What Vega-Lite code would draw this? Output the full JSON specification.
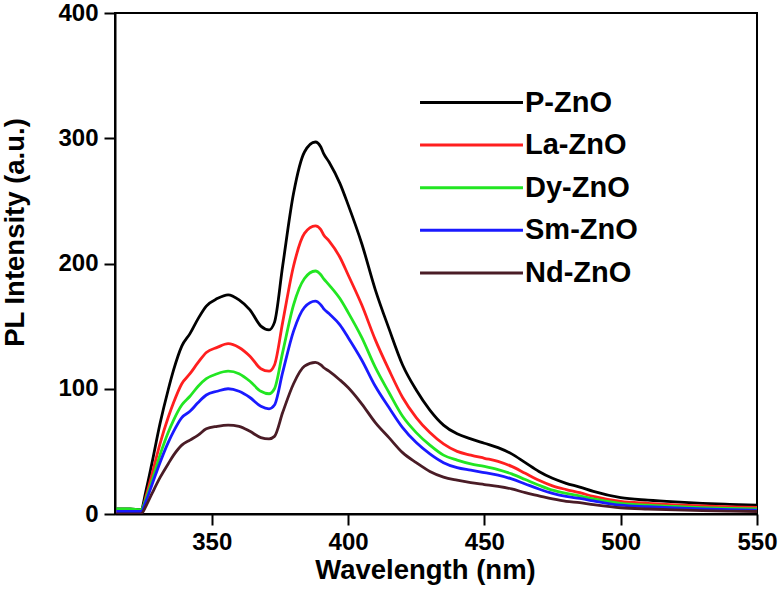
{
  "$schema": "https://vega.github.io/schema/vega-lite/v6.json",
  "width": 642,
  "height": 501,
  "autosize": "none",
  "padding": {"left": 115, "top": 13, "right": 25, "bottom": 75},
  "config": {
    "view": {"stroke": "black", "strokeWidth": 2},
    "font": "Liberation Sans",
    "axis": {
      "grid": false,
      "domainColor": "black",
      "domainWidth": 2,
      "tickColor": "black",
      "tickWidth": 2,
      "tickSize": 11,
      "labelFont": "Liberation Sans",
      "labelFontWeight": "bold",
      "labelFontSize": 24,
      "labelColor": "black",
      "titleFont": "Liberation Sans",
      "titleFontWeight": "bold",
      "titleFontSize": 27.5,
      "titleColor": "black"
    }
  },
  "data": {
    "values": [
      {"wl":315,"P":4,"La":1.5,"Dy":4,"Sm":2,"Nd":0},
      {"wl":320,"P":4,"La":1.5,"Dy":4,"Sm":2,"Nd":0},
      {"wl":324,"P":3.5,"La":1.5,"Dy":3.5,"Sm":2,"Nd":0},
      {"wl":326,"P":20,"La":15,"Dy":13,"Sm":11,"Nd":7},
      {"wl":328,"P":40,"La":31,"Dy":26,"Sm":23,"Nd":16},
      {"wl":331,"P":72,"La":56,"Dy":47,"Sm":41,"Nd":29},
      {"wl":334,"P":99,"La":77,"Dy":65,"Sm":57,"Nd":40},
      {"wl":336,"P":115,"La":89,"Dy":75,"Sm":66,"Nd":47},
      {"wl":339,"P":134,"La":104,"Dy":87,"Sm":77,"Nd":55},
      {"wl":342,"P":144,"La":112,"Dy":94,"Sm":82,"Nd":59},
      {"wl":345,"P":156,"La":121,"Dy":102,"Sm":89,"Nd":63},
      {"wl":348,"P":166,"La":129,"Dy":108,"Sm":95,"Nd":68},
      {"wl":352,"P":172,"La":133,"Dy":112,"Sm":98,"Nd":70},
      {"wl":356,"P":175,"La":136,"Dy":114,"Sm":100,"Nd":71},
      {"wl":360,"P":171,"La":133,"Dy":112,"Sm":98,"Nd":70},
      {"wl":364,"P":163,"La":126,"Dy":106,"Sm":93,"Nd":66},
      {"wl":368,"P":150,"La":116,"Dy":98,"Sm":86,"Nd":61},
      {"wl":371,"P":147,"La":114,"Dy":96,"Sm":84,"Nd":60},
      {"wl":373,"P":153,"La":119,"Dy":100,"Sm":87,"Nd":62},
      {"wl":376,"P":198,"La":153,"Dy":129,"Sm":113,"Nd":81},
      {"wl":380,"P":256,"La":198,"Dy":167,"Sm":146,"Nd":104},
      {"wl":384,"P":289,"La":224,"Dy":188,"Sm":165,"Nd":118},
      {"wl":388,"P":297,"La":230,"Dy":194,"Sm":170,"Nd":121},
      {"wl":390,"P":293,"La":227,"Dy":191,"Sm":167,"Nd":119},
      {"wl":391,"P":288,"La":223,"Dy":188,"Sm":164,"Nd":117},
      {"wl":393,"P":281,"La":218,"Dy":183,"Sm":160,"Nd":114},
      {"wl":397,"P":264,"La":205,"Dy":172,"Sm":151,"Nd":107},
      {"wl":400,"P":247,"La":191,"Dy":161,"Sm":141,"Nd":101},
      {"wl":405,"P":216,"La":167,"Dy":141,"Sm":123,"Nd":88},
      {"wl":410,"P":179,"La":139,"Dy":117,"Sm":102,"Nd":73},
      {"wl":415,"P":148,"La":115,"Dy":97,"Sm":85,"Nd":61},
      {"wl":420,"P":119,"La":93,"Dy":78,"Sm":69,"Nd":49},
      {"wl":425,"P":99,"La":77,"Dy":65,"Sm":57,"Nd":41},
      {"wl":430,"P":83,"La":65,"Dy":55,"Sm":48,"Nd":34},
      {"wl":435,"P":71,"La":56,"Dy":47,"Sm":41,"Nd":29.5},
      {"wl":440,"P":64,"La":50,"Dy":43,"Sm":37,"Nd":27},
      {"wl":445,"P":60,"La":47,"Dy":40,"Sm":35,"Nd":25},
      {"wl":450,"P":56.5,"La":44.5,"Dy":38,"Sm":33,"Nd":23.5},
      {"wl":455,"P":53,"La":42,"Dy":35.5,"Sm":31,"Nd":22},
      {"wl":460,"P":48,"La":38,"Dy":32,"Sm":28,"Nd":20},
      {"wl":465,"P":41,"La":32.5,"Dy":27.5,"Sm":24,"Nd":17},
      {"wl":470,"P":34,"La":27,"Dy":23,"Sm":20,"Nd":14.5},
      {"wl":475,"P":28.5,"La":22.5,"Dy":19,"Sm":16.5,"Nd":12},
      {"wl":480,"P":24.5,"La":19.5,"Dy":16.5,"Sm":14,"Nd":10},
      {"wl":485,"P":21.5,"La":17,"Dy":14.5,"Sm":12.5,"Nd":9},
      {"wl":490,"P":18,"La":14,"Dy":12,"Sm":10.5,"Nd":7.5},
      {"wl":500,"P":13,"La":10,"Dy":8.5,"Sm":7,"Nd":5},
      {"wl":510,"P":11,"La":8.5,"Dy":7,"Sm":5.8,"Nd":4},
      {"wl":520,"P":9.6,"La":7.3,"Dy":6,"Sm":4.8,"Nd":3.3},
      {"wl":530,"P":8.5,"La":6.4,"Dy":5,"Sm":4,"Nd":2.7},
      {"wl":540,"P":7.7,"La":5.7,"Dy":4.4,"Sm":3.4,"Nd":2.3},
      {"wl":550,"P":7,"La":5.2,"Dy":4,"Sm":3,"Nd":2}
    ]
  },
  "transform": [
    {"fold": ["P", "La", "Dy", "Sm", "Nd"], "as": ["key", "value"]},
    {"lookup": "key", "from": {"data": {"values": [
      {"key": "P", "series": "P-ZnO", "ord": 5},
      {"key": "La", "series": "La-ZnO", "ord": 4},
      {"key": "Dy", "series": "Dy-ZnO", "ord": 3},
      {"key": "Sm", "series": "Sm-ZnO", "ord": 2},
      {"key": "Nd", "series": "Nd-ZnO", "ord": 1}
    ]}, "key": "key", "fields": ["series", "ord"]}}
  ],
  "mark": {"type": "line", "strokeWidth": 2.8, "interpolate": "monotone", "clip": true},
  "encoding": {
    "x": {
      "field": "wl", "type": "quantitative",
      "scale": {"domain": [314.5, 550], "nice": false, "zero": false},
      "axis": {"values": [350, 400, 450, 500, 550], "title": "Wavelength (nm)", "labelPadding": 5, "titleX": 310, "titleY": 64, "titleBaseline": "alphabetic", "labelFlush": false}
    },
    "y": {
      "field": "value", "type": "quantitative",
      "scale": {"domain": [0, 400], "nice": false},
      "axis": {"values": [0, 100, 200, 300, 400], "title": "PL Intensity (a.u.)", "labelPadding": 6, "titleX": -86, "titleY": 219, "labelFlush": false}
    },
    "order": {"field": "ord"},
    "color": {
      "field": "series", "type": "nominal",
      "sort": ["P-ZnO", "La-ZnO", "Dy-ZnO", "Sm-ZnO", "Nd-ZnO"],
      "scale": {"domain": ["P-ZnO", "La-ZnO", "Dy-ZnO", "Sm-ZnO", "Nd-ZnO"], "range": ["#000000", "#ff1f1f", "#22e622", "#1a1aff", "#4a1c26"]},
      "legend": {
        "title": null,
        "orient": "none",
        "legendX": 342,
        "legendY": 75,
        "symbolType": "M-5,0H5",
        "symbolSize": 424,
        "symbolStrokeWidth": 3,
        "labelFont": "Liberation Sans",
        "labelFontWeight": "bold",
        "labelFontSize": 29,
        "labelColor": "black",
        "labelOffset": 39,
        "rowPadding": 12.6
      }
    }
  }
}
